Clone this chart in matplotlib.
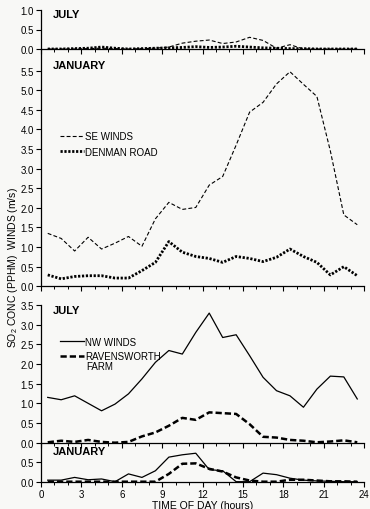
import matplotlib
matplotlib.use('Agg')
import matplotlib.pyplot as plt

plt.rcParams['font.family'] = ['Liberation Sans', 'DejaVu Sans']
plt.rcParams['mathtext.default'] = 'regular'

# hourly averages plotted at the half hour
hours = [0.5, 1.5, 2.5, 3.5, 4.5, 5.5, 6.5, 7.5, 8.5, 9.5, 10.5, 11.5,
         12.5, 13.5, 14.5, 15.5, 16.5, 17.5, 18.5, 19.5, 20.5, 21.5, 22.5, 23.5]

# Denman Road site (SE winds)
jul_se = [0.0, 0.0, 0.0, 0.01, 0.02, 0.01, 0.0, 0.01, 0.02, 0.05, 0.15, 0.2,
          0.23, 0.14, 0.18, 0.3, 0.22, 0.02, 0.11, 0.0, 0.0, 0.0, 0.0, 0.0]
jul_denman = [0.0, 0.0, 0.01, 0.02, 0.05, 0.02, 0.0, 0.01, 0.02, 0.03, 0.04, 0.06,
              0.04, 0.05, 0.07, 0.05, 0.03, 0.02, 0.01, 0.01, 0.0, 0.0, 0.0, 0.0]
jan_se = [1.35, 1.22, 0.9, 1.25, 0.95, 1.1, 1.27, 1.02, 1.72, 2.14, 1.96, 2.01,
          2.58, 2.8, 3.6, 4.44, 4.69, 5.16, 5.47, 5.15, 4.84, 3.45, 1.82, 1.57]
jan_denman = [0.29, 0.19, 0.25, 0.27, 0.27, 0.21, 0.21, 0.40, 0.61, 1.14, 0.87, 0.76,
              0.71, 0.61, 0.76, 0.71, 0.63, 0.74, 0.95, 0.76, 0.61, 0.29, 0.5, 0.27]

# Ravensworth Farm site (NW winds)
jul_nw = [1.15, 1.09, 1.19, 1.0, 0.81, 0.98, 1.24, 1.62, 2.04, 2.34, 2.25, 2.8,
          3.29, 2.67, 2.74, 2.21, 1.66, 1.32, 1.19, 0.9, 1.36, 1.69, 1.67, 1.11]
jul_raven = [0.01, 0.05, 0.02, 0.07, 0.02, 0.0, 0.02, 0.16, 0.26, 0.43, 0.63, 0.58,
             0.77, 0.75, 0.73, 0.47, 0.15, 0.13, 0.07, 0.05, 0.01, 0.03, 0.06, 0.01]
jan_nw = [0.04, 0.04, 0.11, 0.05, 0.07, 0.0, 0.2, 0.11, 0.28, 0.63, 0.69, 0.73,
          0.31, 0.28, 0.0, 0.0, 0.22, 0.18, 0.09, 0.04, 0.02, 0.01, 0.0, 0.0]
jan_raven = [0.0, 0.0, 0.0, 0.0, 0.0, 0.0, 0.0, 0.0, 0.0, 0.2, 0.46, 0.47,
             0.33, 0.26, 0.11, 0.03, 0.0, 0.0, 0.05, 0.05, 0.03, 0.01, 0.01, 0.0]

W, H = 370, 510
bg = '#f8f8f6'
fig = plt.figure(figsize=(W / 100, H / 100), dpi=100, facecolor=bg)


def panel(top, bottom, ymax, spine_top, yticks):
    left, right = 41, 364
    ax = fig.add_axes([left / W, 1 - bottom / H, (right - left) / W, (bottom - top) / H])
    ax.set_facecolor('none')
    ax.set_xlim(0, 24)
    ax.set_ylim(0, ymax)
    for s in ['top', 'right']:
        ax.spines[s].set_visible(False)
    ax.spines['left'].set_bounds(0, spine_top)
    for s in ['left', 'bottom']:
        ax.spines[s].set_linewidth(0.9)
    ax.set_yticks(yticks)
    ax.set_yticklabels(['%.1f' % t for t in yticks])
    ax.set_xticks(range(0, 25, 3))
    ax.set_xticks(range(0, 25), minor=True)
    ax.tick_params(which='major', length=3.5, width=0.8, labelsize=7, pad=1.5)
    ax.tick_params(which='minor', length=2.5, width=0.7)
    ax.tick_params(axis='x', labelbottom=False)
    return ax


se_style = dict(color='black', lw=0.8, ls=(0, (3.5, 2)))
dm_style = dict(color='black', lw=2.0, ls=(0, (0.8, 0.6)))
nw_style = dict(color='black', lw=0.9, ls='-')
rv_style = dict(color='black', lw=1.8, ls=(0, (2.5, 1.2)))

ax1 = panel(11, 50, 1.0, 1.0, [0.0, 0.5, 1.0])
ax1.plot(hours, jul_se, **se_style)
ax1.plot(hours, jul_denman, **dm_style)
ax1.text(0.037, 0.9, 'JULY', transform=ax1.transAxes, fontsize=8, fontweight='bold', va='center')

ax2 = panel(50, 287.3, 6.05, 6.05, [0.0, 0.5, 1.0, 1.5, 2.0, 2.5, 3.0, 3.5, 4.0, 4.5, 5.0, 5.5])
ax2.plot(hours, jan_se, label='SE WINDS', **se_style)
ax2.plot(hours, jan_denman, label='DENMAN ROAD', **dm_style)
ax2.text(0.037, 0.933, 'JANUARY', transform=ax2.transAxes, fontsize=8, fontweight='bold', va='center')
ax2.legend(loc='upper left', bbox_to_anchor=(0.06, 0.654), frameon=False, fontsize=7,
           handlelength=2.4, handletextpad=0.15, labelspacing=0.58,
           borderpad=0, borderaxespad=0)

ax3 = panel(287.3, 443.7, 3.97, 3.5, [0.0, 0.5, 1.0, 1.5, 2.0, 2.5, 3.0, 3.5])
ax3.plot(hours, jul_nw, label='NW WINDS', **nw_style)
ax3.plot(hours, jul_raven, label='RAVENSWORTH', **rv_style)
ax3.text(0.037, 0.848, 'JULY', transform=ax3.transAxes, fontsize=8, fontweight='bold', va='center')
ax3.legend(loc='upper left', bbox_to_anchor=(0.06, 0.678), frameon=False, fontsize=7,
           handlelength=2.4, handletextpad=0.15, labelspacing=0.45,
           borderpad=0, borderaxespad=0)
ax3.text(0.141, 0.49, 'FARM', transform=ax3.transAxes, fontsize=7, va='center')

ax4 = panel(443.7, 482.7, 1.0, 1.0, [0.0, 0.5])
ax4.plot(hours, jan_nw, **nw_style)
ax4.plot(hours, jan_raven, **rv_style)
ax4.text(0.037, 0.79, 'JANUARY', transform=ax4.transAxes, fontsize=8, fontweight='bold', va='center')
ax4.tick_params(axis='x', labelbottom=True)
ax4.set_xlabel('TIME OF DAY (hours)', fontsize=7.5, labelpad=1)

fig.text(13 / W, 1 - 268 / H, 'SO$_2$ CONC (PPHM)  WINDS (m/s)', rotation=90,
         fontsize=7.5, ha='center', va='center')

fig.savefig('out.png', dpi=100, facecolor=bg)
